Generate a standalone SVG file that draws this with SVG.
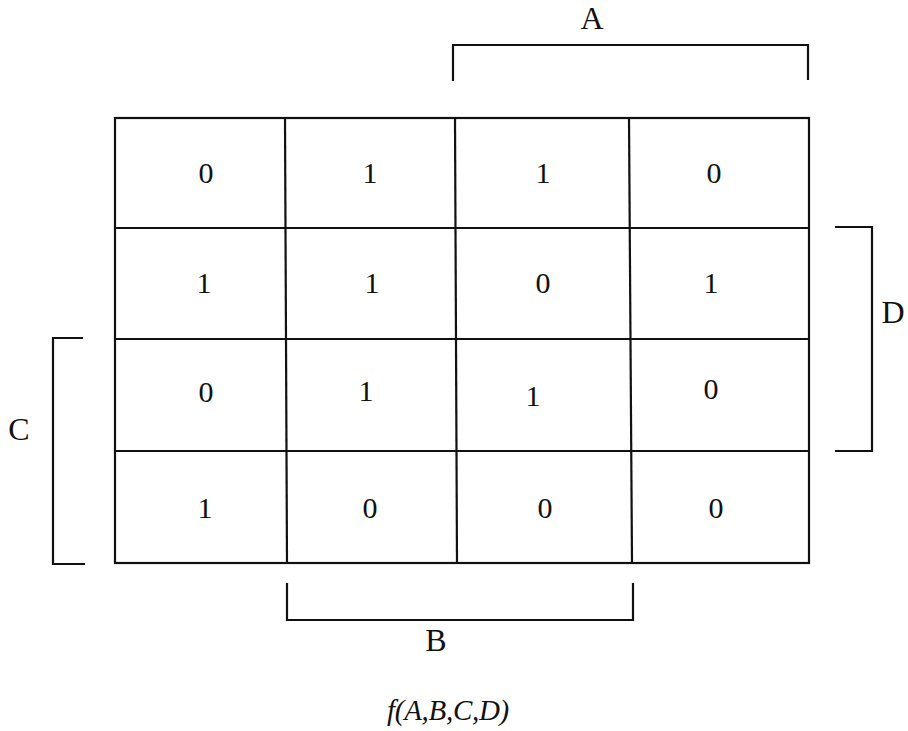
<svg xmlns="http://www.w3.org/2000/svg" width="908" height="731" viewBox="0 0 908 731">
<style>
.ln{fill:none;stroke:#111;stroke-width:2.2}
.d{font-family:"Liberation Serif",serif;font-size:30px;fill:#111;text-anchor:middle}
.l{font-family:"Liberation Serif",serif;font-size:32px;fill:#111;text-anchor:middle}
.f{font-family:"Liberation Serif",serif;font-size:29px;font-style:italic;fill:#111;text-anchor:middle;letter-spacing:-0.3px}
</style>
<rect width="908" height="731" fill="#fff"/>
<g id="grid">
<rect class="ln" x="115" y="118" width="694" height="445"/>
<line class="ln" x1="285" y1="118" x2="287" y2="563"/>
<line class="ln" x1="455" y1="118" x2="457" y2="563"/>
<line class="ln" x1="629" y1="118" x2="632" y2="563"/>
<line class="ln" x1="115" y1="228" x2="809" y2="228"/>
<line class="ln" x1="115" y1="339" x2="809" y2="339"/>
<line class="ln" x1="115" y1="451" x2="809" y2="451"/>
</g>
<g id="cells">
<text class="d" x="206" y="183">0</text><text class="d" x="370" y="183">1</text><text class="d" x="543" y="183">1</text><text class="d" x="714" y="183">0</text>
<text class="d" x="204" y="293">1</text><text class="d" x="372" y="293">1</text><text class="d" x="543" y="293">0</text><text class="d" x="711" y="293">1</text>
<text class="d" x="206" y="402">0</text><text class="d" x="366" y="401">1</text><text class="d" x="533" y="406">1</text><text class="d" x="711" y="399">0</text>
<text class="d" x="205" y="518">1</text><text class="d" x="370" y="518">0</text><text class="d" x="545" y="518">0</text><text class="d" x="716" y="518">0</text>
</g>
<g id="brackets">
<polyline class="ln" points="453,81 453,45 808,45 808,80"/>
<polyline class="ln" points="835,227 872,227 872,451 835,451"/>
<polyline class="ln" points="83,338 53,338 53,564 85,564"/>
<polyline class="ln" points="287,583 287,620 633,620 633,583"/>
</g>
<g id="labels">
<text class="l" x="592" y="29">A</text>
<text class="l" x="436" y="651">B</text>
<text class="l" x="19" y="440">C</text>
<text class="l" x="893" y="323">D</text>
<text class="f" x="448" y="720">f(A,B,C,D)</text>
</g>
</svg>
